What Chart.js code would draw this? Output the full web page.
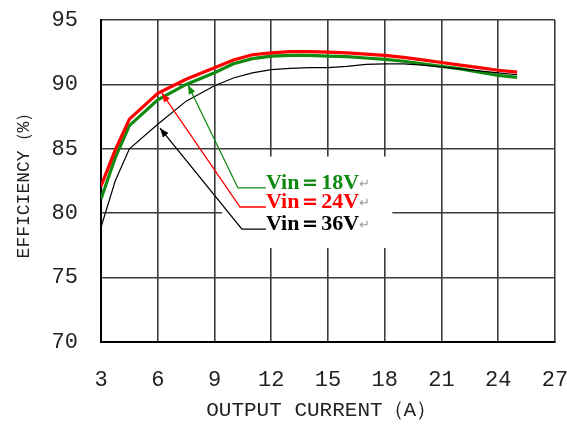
<!DOCTYPE html>
<html>
<head>
<meta charset="utf-8">
<script src="https://cdn.jsdelivr.net/npm/chart.js@4"></script>
<style>
  html, body { margin: 0; padding: 0; background: #fff; }
  #wrap { width: 567px; height: 425px; }
</style>
</head>
<body>
<div id="wrap"><canvas id="chart" width="567" height="425"></canvas></div>
<script>
// output current (A)
const currents = [3, 3.75, 4.5, 6, 7.5, 9, 10, 11, 12, 13, 14, 15, 16, 17, 18, 19, 20, 21, 22, 23, 24, 25]
// efficiency (%) per input voltage
const eff18 = [81.1, 84.3, 86.8, 88.8, 90.0, 90.9, 91.6, 92.0, 92.2, 92.25, 92.25, 92.2, 92.15, 92.05, 91.95, 91.8, 91.6, 91.4, 91.2, 90.95, 90.7, 90.55]
const eff24 = [82.1, 84.9, 87.3, 89.3, 90.4, 91.3, 91.9, 92.3, 92.45, 92.55, 92.55, 92.5, 92.45, 92.35, 92.25, 92.1, 91.9, 91.7, 91.5, 91.3, 91.1, 90.95]
const eff36 = [78.9, 82.5, 85.0, 86.9, 88.7, 89.9, 90.5, 90.9, 91.15, 91.25, 91.3, 91.3, 91.4, 91.55, 91.6, 91.6, 91.5, 91.35, 91.2, 91.05, 90.9, 90.75]

const xTicks = [3, 6, 9, 12, 15, 18, 21, 24, 27]
const yTicks = [70, 75, 80, 85, 90, 95]

// callout labels, in data units (A, %)
const labels = ['Vin＝18V', 'Vin＝24V', 'Vin＝36V']
const labelColors = ['#108a10', '#ff0000', '#000000']
const arrowTips = [[7.6, 89.95], [6.22, 89.33], [6.12, 86.6]]
const arrowElbows = [[10.24, 81.96], [10.35, 80.48], [10.45, 78.77]]
const labelX = 11.72
const calloutBox = [9.4, 84.4, 18.4, 77.3]

const toPts = ys => ys.map((y, i) => ({ x: currents[i], y: y }))

const callouts = {
  id: 'callouts',
  beforeDatasetsDraw(chart) {
    // white box behind the labels hides the grid
    const { ctx, scales: { x, y } } = chart
    const l = x.getPixelForValue(calloutBox[0]), t = y.getPixelForValue(calloutBox[1])
    const r = x.getPixelForValue(calloutBox[2]), b = y.getPixelForValue(calloutBox[3])
    ctx.save()
    ctx.fillStyle = '#fff'
    ctx.fillRect(l, t, r - l, b - t)
    ctx.restore()
  },
  afterDatasetsDraw(chart) {
    const { ctx, scales: { x, y } } = chart
    ctx.save()
    labels.forEach((txt, i) => {
      const tx = x.getPixelForValue(arrowTips[i][0]), ty = y.getPixelForValue(arrowTips[i][1])
      const ex = x.getPixelForValue(arrowElbows[i][0]), ey = y.getPixelForValue(arrowElbows[i][1])
      const lx = x.getPixelForValue(labelX)
      ctx.strokeStyle = labelColors[i]
      ctx.fillStyle = labelColors[i]
      ctx.lineWidth = 1.3
      ctx.beginPath()
      ctx.moveTo(lx, ey)
      ctx.lineTo(ex, ey)
      ctx.lineTo(tx, ty)
      ctx.stroke()
      // arrow head
      const ang = Math.atan2(ty - ey, tx - ex)
      const len = 9, w = 3.5
      ctx.beginPath()
      ctx.moveTo(tx, ty)
      ctx.lineTo(tx - len * Math.cos(ang) + w * Math.sin(ang), ty - len * Math.sin(ang) - w * Math.cos(ang))
      ctx.lineTo(tx - len * Math.cos(ang) - w * Math.sin(ang), ty - len * Math.sin(ang) + w * Math.cos(ang))
      ctx.closePath()
      ctx.fill()
      // label text
      ctx.font = 'bold 22px "Liberation Serif", serif'
      ctx.textBaseline = 'alphabetic'
      ctx.textAlign = 'left'
      ctx.fillText(txt, lx, ey + 1)
      const w2 = ctx.measureText(txt).width
      ctx.font = '13px "DejaVu Sans"'
      ctx.fillStyle = '#999'
      ctx.fillText('↵', lx + w2, ey)
    })
    ctx.restore()
  }
}

const gridColor = '#3c3c3c'
const tickFont = { family: '"Liberation Mono", monospace', size: 22 }

new Chart(document.getElementById('chart'), {
  type: 'line',
  data: {
    datasets: [
      { label: 'Vin=18V', data: toPts(eff18), borderColor: '#108a10', borderWidth: 3.2, order: 2 },
      { label: 'Vin=24V', data: toPts(eff24), borderColor: '#ff0000', borderWidth: 3.2, order: 1 },
      { label: 'Vin=36V', data: toPts(eff36), borderColor: '#000000', borderWidth: 1.2, order: 0 }
    ]
  },
  options: {
    responsive: false,
    animation: false,
    parsing: false,
    layout: { padding: { top: 20, right: 12, left: 0, bottom: 0 } },
    elements: { point: { radius: 0 }, line: { tension: 0, fill: false } },
    plugins: { legend: { display: false }, tooltip: { enabled: false } },
    scales: {
      x: {
        type: 'linear',
        min: 3,
        max: 27,
        afterBuildTicks: s => { s.ticks = xTicks.map(v => ({ value: v })) },
        afterFit: s => { s.height = 83; s.paddingLeft = 0; s.paddingRight = 0 },
        grid: { color: gridColor, lineWidth: 1.6, drawTicks: false },
        border: { color: '#000', width: 2 },
        ticks: { font: tickFont, color: '#222', padding: 25 },
        title: {
          display: true,
          text: 'OUTPUT CURRENT（A） ',
          font: { family: '"Liberation Mono", monospace', size: 21 },
          color: '#222',
          padding: { bottom: 2 }
        }
      },
      y: {
        min: 70,
        max: 95,
        afterBuildTicks: s => { s.ticks = yTicks.map(v => ({ value: v })) },
        afterFit: s => { s.width = 101; s.paddingTop = 0; s.paddingBottom = 0 },
        grid: { color: gridColor, lineWidth: 1.6, drawTicks: false },
        border: { color: '#000', width: 2 },
        ticks: { font: tickFont, color: '#222', padding: 23 },
        title: {
          display: true,
          text: 'EFFICIENCY（%）',
          font: { family: '"Liberation Mono", monospace', size: 18 },
          color: '#222',
          padding: { top: 13 }
        }
      }
    }
  },
  plugins: [callouts]
})
</script>
</body>
</html>
